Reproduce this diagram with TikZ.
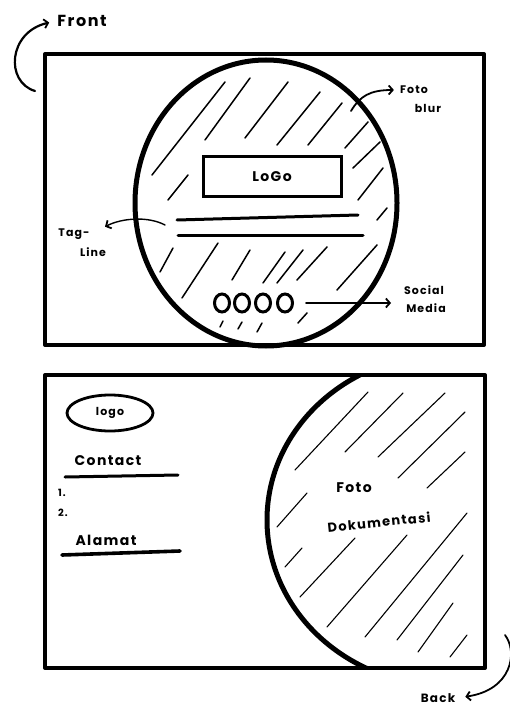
\documentclass[tikz,border=0pt]{standalone}
\usepackage{fontspec}
\setmainfont{Poppins}
\newfontfamily\hand[LetterSpace=10]{Poppins}
\usetikzlibrary{arrows.meta,shapes.geometric}
\begin{document}
\begin{tikzpicture}[x=1pt,y=-1pt,
  card/.style={line width=4pt, line join=round, line cap=round},
  rim/.style={line width=5pt},
  hatch/.style={line width=1.5pt, line cap=round},
  thinhatch/.style={line width=1.1pt, line cap=round},
  bar/.style={line width=3pt, line cap=round},
  lbl/.style={inner sep=1pt, align=center},
  pointer/.style={line width=1.8pt, line cap=round, -{Straight Barb[length=4pt,width=9pt,line width=1.8pt]}},
]
\useasboundingbox (0,0) rectangle (509,711);

% ---------------- FRONT ----------------
\draw[rim] (266,203) ellipse [x radius=131, y radius=143];
\draw[card] (45,54) rectangle (484,345);

\foreach \a/\b/\c/\d in {
  152/175/225/82, 168/200/188/175, 205/140/250/78, 245/138/288/82,
  277/145/320/92, 308/145/342/103, 345/148/368/122, 353/168/380/142,
  358/200/383/168, 377/220/387/208,
  160/272/173/248, 182/298/218/243, 232/280/250/250, 263/283/285/252,
  277/283/303/250, 297/280/327/247, 337/290/377/245, 298/323/307/313,
  220/327/223/321, 238/329/242/322, 257/332/262/323}
  \draw[hatch] (\a,\b) -- (\c,\d);

\node[draw, line width=3pt, fill=white, minimum width=138pt, minimum height=40pt, lbl,
      font=\hand\bfseries\fontsize{14}{16}\selectfont] (logo) at (272,177) {LoGo};

\draw[bar] (177,220) -- (358,215);
\draw[bar] (178,235) -- (363,235);

\foreach \i/\x in {1/222,2/242,3/263,4/285}
  \node[ellipse, draw, line width=3pt, minimum width=15pt, minimum height=18pt, inner sep=0pt] (s\i) at (\x,303) {};

% labels of the front
\node[lbl, font=\hand\bfseries\fontsize{16}{20}\selectfont] (fronttxt) at (82,21) {Front};
\coordinate (frontstart) at (35,91);
\draw[pointer, line width=2.2pt, shorten >=7pt] (frontstart) .. controls (5,82) and (8,32) .. (fronttxt.west);

\node[lbl, font=\hand\bfseries\fontsize{11}{13}\selectfont] (blur1) at (414,90) {Foto};
\node[lbl, font=\hand\bfseries\fontsize{11}{13}\selectfont] (blur2) at (428,108) {blur};
\coordinate (blurstart) at (351,111);
\draw[pointer, shorten >=5pt] (blurstart) .. controls (360,96) and (370,90) .. (blur1.west);

\node[lbl, font=\hand\bfseries\fontsize{11}{13}\selectfont] (tag1) at (74,234) {Tag-};
\node[lbl, font=\hand\bfseries\fontsize{11}{13}\selectfont] (tag2) at (93,252) {Line};
\coordinate (tagstart) at (165,225);
\draw[pointer, line width=1.4pt, shorten >=16pt] (tagstart) .. controls (148,216) and (122,218) .. (tag1.east);

\node[lbl, font=\hand\bfseries\fontsize{11}{13}\selectfont] (sm1) at (424,290) {Social};
\node[lbl, font=\hand\bfseries\fontsize{11}{13}\selectfont] (sm2) at (426,308) {Media};
\draw[pointer, shorten <=12pt, shorten >=14pt] (s4.east) -- (sm2.west |- s4.east);

% ---------------- BACK ----------------
\begin{scope}
  \clip (45,375) rectangle (485,668);
  \draw[rim] (448,520) ellipse [x radius=181, y radius=166];
\end{scope}
\draw[card] (45,375) rectangle (485,668);

\foreach \a/\b/\c/\d in {
  295/470/368/392, 345/452/403/393, 378/457/445/393, 398/478/465/412,
  427/488/465/452, 277/527/307/493, 285/567/302/548, 300/597/355/538,
  327/627/407/535, 365/637/467/513, 397/640/463/555, 418/652/453/603,
  450/657/467/635}
  \draw[thinhatch] (\a,\b) -- (\c,\d);

\node[lbl, fill=white, font=\hand\bfseries\fontsize{14}{16}\selectfont] (foto) at (354,488) {Foto};
\node[lbl, fill=white, rotate=6, font=\hand\bfseries\fontsize{13}{15}\selectfont] (doku) at (379,522) {Dokumentasi};

\node[ellipse, draw, line width=2.8pt, minimum width=86pt, minimum height=36pt, inner sep=0pt,
      font=\hand\bfseries\fontsize{11}{13}\selectfont] (blogo) at (110,413) {logo};

\node[lbl, font=\hand\bfseries\fontsize{14}{16}\selectfont] (contact) at (108,461) {Contact};
\draw[bar] (65,477) -- (178,475);
\node[lbl, anchor=west, font=\hand\bfseries\fontsize{10}{12}\selectfont] (n1) at (57,493) {1.};
\node[lbl, anchor=west, font=\hand\bfseries\fontsize{10}{12}\selectfont] (n2) at (57,513) {2.};
\node[lbl, font=\hand\bfseries\fontsize{14}{16}\selectfont] (alamat) at (106,540) {Alamat};
\draw[bar, line width=3.6pt] (62,555) -- (180,551);

\node[lbl, font=\hand\bfseries\fontsize{12}{14}\selectfont] (backtxt) at (438,698) {Back};
\coordinate (backstart) at (505,635);
\draw[pointer, shorten >=9pt] (backstart) .. controls (518,652) and (512,690) .. (backtxt.east);
\end{tikzpicture}
\end{document}
